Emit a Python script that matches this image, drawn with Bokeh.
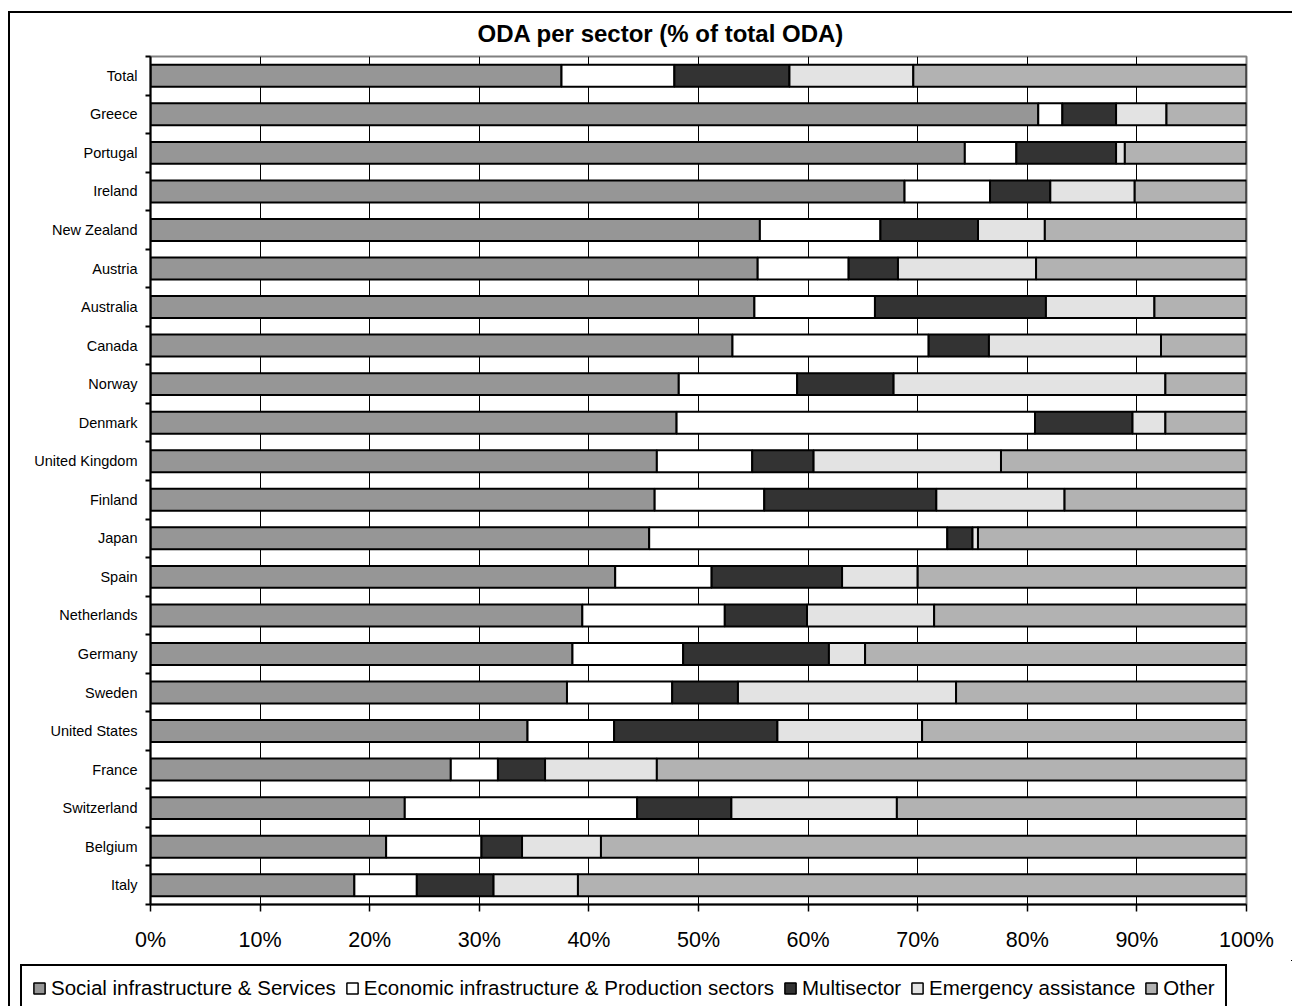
from bokeh.plotting import figure
from bokeh.layouts import column
from bokeh.models import (ColumnDataSource, Range1d, FixedTicker, PrintfTickFormatter,
                          Legend, LegendItem)
from bokeh.embed import file_html
from bokeh.resources import INLINE

countries = ["Total", "Greece", "Portugal", "Ireland", "New Zealand", "Austria", "Australia",
             "Canada", "Norway", "Denmark", "United Kingdom", "Finland", "Japan", "Spain",
             "Netherlands", "Germany", "Sweden", "United States", "France", "Switzerland",
             "Belgium", "Italy"]
social = [37.5, 81.0, 74.3, 68.8, 55.6, 55.4, 55.1, 53.1, 48.2, 48.0, 46.2, 46.0, 45.5, 42.4,
          39.4, 38.5, 38.0, 34.4, 27.4, 23.2, 21.5, 18.6]
economic = [10.3, 2.2, 4.7, 7.8, 11.0, 8.3, 11.0, 17.9, 10.8, 32.7, 8.7, 10.0, 27.2, 8.8,
            13.0, 10.1, 9.6, 7.9, 4.3, 21.2, 8.7, 5.7]
multisector = [10.5, 4.9, 9.1, 5.5, 8.9, 4.5, 15.6, 5.5, 8.8, 8.9, 5.6, 15.7, 2.3, 11.9,
               7.5, 13.3, 6.0, 14.9, 4.3, 8.6, 3.7, 7.0]
emergency = [11.3, 4.6, 0.8, 7.7, 6.1, 12.6, 9.9, 15.7, 24.8, 3.0, 17.1, 11.7, 0.5, 6.9,
             11.6, 3.3, 19.9, 13.2, 10.2, 15.1, 7.2, 7.7]
other = [30.4, 7.3, 11.1, 10.2, 18.4, 19.2, 8.4, 7.8, 7.4, 7.4, 22.4, 16.6, 24.5, 30.0,
         28.5, 34.8, 26.5, 29.6, 53.8, 31.9, 58.9, 61.0]
series_labels = ["Social infrastructure & Services", "Economic infrastructure & Production sectors",
                 "Multisector", "Emergency assistance", "Other"]
x_ticks = [0, 10, 20, 30, 40, 50, 60, 70, 80, 90, 100]

colors = ["#969696", "#ffffff", "#333333", "#e3e3e3", "#b2b2b2"]
keys = ["social", "economic", "multisector", "emergency", "other"]
FONT = "Liberation Sans"

n = len(countries)
src = ColumnDataSource(dict(y=list(range(n)), social=social, economic=economic,
                            multisector=multisector, emergency=emergency, other=other))

MAIN_H = 960
LEG_H = 1006 - MAIN_H

p = figure(width=1292, height=MAIN_H, output_backend="svg", toolbar_location=None,
           x_range=Range1d(0, 100), y_range=Range1d(n - 0.5, -0.5),
           min_border_left=150, min_border_right=46, min_border_top=56, min_border_bottom=56)
p.frame_align = False

# outer chart frame (left and top edges; the others fall outside the picture)
p.border_fill_alpha = 0
p.styles = {
    "background": ("linear-gradient(#000,#000) 8px 11px / 2px 3000px no-repeat, "
                   "linear-gradient(#000,#000) 8px 11px / 3000px 2px no-repeat, #fff"),
}

p.title.text = "ODA per sector (% of total ODA)"
p.title.text_font = FONT
p.title.text_font_size = "24px"
p.title.text_font_style = "bold"
p.title.text_color = "black"
p.title.align = "left"
p.title.offset = 327
p.title.standoff = 19

p.outline_line_color = "#808080"
p.outline_line_width = 2
p.background_fill_color = "white"

p.ygrid.visible = False
p.xgrid.ticker = FixedTicker(ticks=x_ticks)
p.xgrid.grid_line_color = "black"
p.xgrid.grid_line_width = 1
p.xgrid.level = "underlay"

renderers = p.hbar_stack(keys, y="y", height=0.57, color=colors, line_color="black",
                         line_width=2, source=src)

xa = p.xaxis[0]
xa.ticker = FixedTicker(ticks=x_ticks)
xa.formatter = PrintfTickFormatter(format="%d%%")
xa.major_label_text_font = FONT
xa.major_label_text_font_size = "21.5px"
xa.major_label_text_color = "black"
xa.axis_line_color = "black"
xa.axis_line_width = 2
xa.major_tick_line_color = "black"
xa.major_tick_line_width = 1.5
xa.major_tick_out = 7
xa.major_tick_in = 0
xa.minor_tick_out = 0
xa.minor_tick_in = 0
xa.major_label_standoff = 16

ya = p.yaxis[0]
ya.ticker = FixedTicker(ticks=list(range(n)), minor_ticks=[i - 0.5 for i in range(n + 1)])
ya.major_label_overrides = {i: c for i, c in enumerate(countries)}
ya.major_label_text_font = FONT
ya.major_label_text_font_size = "14.5px"
ya.major_label_text_color = "black"
ya.axis_line_color = "black"
ya.axis_line_width = 2
ya.major_tick_out = 0
ya.major_tick_in = 0
ya.minor_tick_out = 5
ya.minor_tick_in = 0
ya.minor_tick_line_color = "black"
ya.minor_tick_line_width = 2
ya.major_label_standoff = 8

# legend strip below the chart (its bars lie outside its visible range)
pl = figure(width=1292, height=LEG_H, output_backend="svg", toolbar_location=None,
            x_range=Range1d(-1000, -900), y_range=Range1d(-1000, -900),
            x_axis_location=None, y_axis_location=None,
            min_border_left=0, min_border_right=0, min_border_top=0, min_border_bottom=0)
pl.frame_align = False
pl.grid.visible = False
pl.outline_line_color = None
pl.background_fill_alpha = 0
pl.border_fill_alpha = 0
pl.styles = {
    "background": "linear-gradient(#000,#000) 8px 0px / 2px 3000px no-repeat, #fff",
}
leg_renderers = pl.hbar_stack(keys, y="y", height=0.57, color=colors, line_color="black",
                              line_width=1.5, source=src)
items = [LegendItem(label=lab, renderers=[r]) for lab, r in zip(series_labels, leg_renderers)]
legend = Legend(items=items, orientation="horizontal", location=(20, -6),
                border_line_color="black", border_line_width=2, border_line_alpha=1,
                background_fill_color="white", background_fill_alpha=1,
                label_text_font=FONT, label_text_font_size="20.5px", label_text_color="black",
                glyph_width=14, glyph_height=14, label_standoff=5, spacing=9, padding=10,
                margin=0, label_height=20)
pl.add_layout(legend, "center")

layout = column(p, pl, spacing=0)
open("out.html", "w").write(file_html(layout, INLINE))
